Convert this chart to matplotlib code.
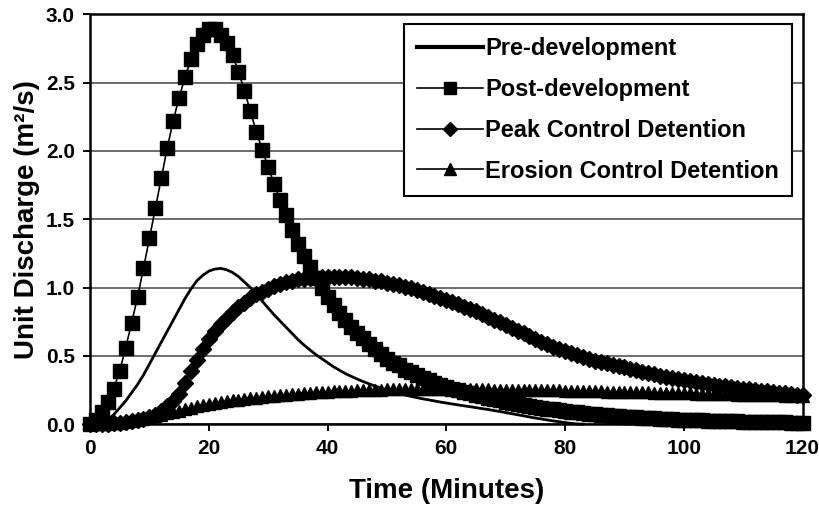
import numpy as np
import matplotlib.pyplot as plt
from matplotlib.lines import Line2D

plt.rcParams['font.family'] = ['Liberation Sans', 'DejaVu Sans']
plt.rcParams['font.weight'] = 'bold'
plt.rcParams['axes.labelweight'] = 'bold'

# unit discharge (m2/s), one value per minute
pre_dev = [0.0, 0.005, 0.015, 0.035, 0.07, 0.12, 0.17, 0.23, 0.29, 0.36,
           0.44, 0.52, 0.60, 0.68, 0.76, 0.84, 0.92, 0.99, 1.05, 1.09,
           1.12, 1.135, 1.14, 1.13, 1.11, 1.08, 1.04, 1.00, 0.95, 0.90,
           0.85, 0.80, 0.755, 0.71, 0.665, 0.62, 0.58, 0.545, 0.51, 0.48,
           0.45, 0.42, 0.395, 0.37, 0.35, 0.33, 0.312, 0.295, 0.279, 0.264,
           0.25, 0.237, 0.225, 0.214, 0.204, 0.195, 0.186, 0.178, 0.17, 0.162,
           0.155, 0.148, 0.141, 0.134, 0.128, 0.121, 0.114, 0.108, 0.10, 0.093,
           0.085, 0.077, 0.069, 0.061, 0.053, 0.045, 0.038, 0.031, 0.024, 0.018,
           0.012, 0.006, 0.002, 0.0]

post_dev = [0.00, 0.03, 0.09, 0.16, 0.26, 0.39, 0.56, 0.74, 0.93, 1.14,
            1.36, 1.58, 1.80, 2.02, 2.22, 2.39, 2.54, 2.67, 2.78, 2.85,
            2.89, 2.89, 2.85, 2.79, 2.70, 2.58, 2.44, 2.29, 2.14, 2.01,
            1.88, 1.76, 1.64, 1.53, 1.42, 1.32, 1.23, 1.15, 1.07, 1.00,
            0.93, 0.87, 0.81, 0.76, 0.71, 0.67, 0.63, 0.59, 0.55, 0.51,
            0.48, 0.45, 0.43, 0.40, 0.38, 0.36, 0.34, 0.32, 0.30, 0.29,
            0.27, 0.26, 0.25, 0.235, 0.225, 0.215, 0.205, 0.195, 0.185, 0.175,
            0.165, 0.157, 0.149, 0.141, 0.134, 0.127, 0.120, 0.114, 0.108, 0.102,
            0.097, 0.092, 0.087, 0.082, 0.078, 0.074, 0.070, 0.066, 0.062, 0.059,
            0.056, 0.053, 0.050, 0.047, 0.045, 0.042, 0.040, 0.038, 0.036, 0.034,
            0.032, 0.030, 0.029, 0.027, 0.026, 0.024, 0.023, 0.022, 0.021, 0.020,
            0.019, 0.018, 0.017, 0.016, 0.015, 0.014, 0.014, 0.013, 0.012, 0.012,
            0.011]

peak_ctrl = [0.0, 0.0, 0.0, 0.0, 0.005, 0.01, 0.015, 0.02, 0.03, 0.04,
             0.05, 0.07, 0.10, 0.13, 0.17, 0.22, 0.30, 0.39, 0.47, 0.55,
             0.62, 0.68, 0.73, 0.78, 0.82, 0.86, 0.89, 0.92, 0.95, 0.97,
             0.99, 1.01, 1.025, 1.04, 1.05, 1.06, 1.065, 1.07, 1.075, 1.08,
             1.08, 1.08, 1.08, 1.08, 1.075, 1.07, 1.065, 1.06, 1.05, 1.045,
             1.035, 1.025, 1.015, 1.005, 0.995, 0.98, 0.97, 0.955, 0.94, 0.925,
             0.91, 0.895, 0.88, 0.86, 0.845, 0.825, 0.805, 0.785, 0.765, 0.745,
             0.725, 0.705, 0.685, 0.665, 0.645, 0.625, 0.605, 0.585, 0.565, 0.55,
             0.535, 0.52, 0.505, 0.49, 0.48, 0.465, 0.455, 0.445, 0.435, 0.425,
             0.415, 0.405, 0.395, 0.385, 0.375, 0.365, 0.355, 0.345, 0.337, 0.33,
             0.322, 0.315, 0.308, 0.301, 0.295, 0.289, 0.283, 0.277, 0.271, 0.266,
             0.26, 0.255, 0.25, 0.245, 0.24, 0.235, 0.23, 0.225, 0.22, 0.215,
             0.21]

erosion_ctrl = [0.0, 0.0, 0.0, 0.002, 0.005, 0.01, 0.015, 0.02, 0.03, 0.04,
                0.05, 0.06, 0.07, 0.08, 0.09, 0.10, 0.11, 0.12, 0.13, 0.14,
                0.15, 0.155, 0.16, 0.168, 0.175, 0.18, 0.186, 0.19, 0.195, 0.20,
                0.204, 0.208, 0.212, 0.216, 0.22, 0.223, 0.226, 0.229, 0.232, 0.235,
                0.237, 0.24, 0.242, 0.244, 0.246, 0.248, 0.25, 0.251, 0.252, 0.253,
                0.254, 0.255, 0.256, 0.256, 0.257, 0.257, 0.257, 0.257, 0.257, 0.257,
                0.256, 0.256, 0.256, 0.255, 0.255, 0.255, 0.254, 0.254, 0.253, 0.253,
                0.252, 0.252, 0.251, 0.251, 0.25, 0.25, 0.249, 0.248, 0.248, 0.247,
                0.246, 0.245, 0.244, 0.243, 0.242, 0.241, 0.24, 0.239, 0.238, 0.237,
                0.236, 0.235, 0.234, 0.233, 0.232, 0.231, 0.23, 0.229, 0.228, 0.227,
                0.226, 0.225, 0.224, 0.223, 0.222, 0.221, 0.22, 0.219, 0.218, 0.217,
                0.216, 0.215, 0.214, 0.213, 0.212, 0.211, 0.21, 0.209, 0.208, 0.207,
                0.206]

fig = plt.figure(figsize=(8.2, 5.08), dpi=100)
ax = fig.add_axes([0.1098, 0.165, 0.869, 0.807])

ax.plot(range(len(pre_dev)), pre_dev, color='black', lw=2.0, clip_on=False, zorder=3)
ax.plot(range(len(post_dev)), post_dev, color='black', lw=1.2, marker='s', ms=9.5,
        clip_on=False, zorder=3)
ax.plot(range(len(peak_ctrl)), peak_ctrl, color='black', lw=1.2, marker='D', ms=8.5,
        clip_on=False, zorder=3)
ax.plot(range(len(erosion_ctrl)), erosion_ctrl, color='black', lw=1.2, marker='^', ms=9,
        clip_on=False, zorder=3)

ax.set_xlim(0, 120)
ax.set_ylim(0, 3.0)
ax.set_xticks([0, 20, 40, 60, 80, 100, 120])
ax.set_yticks(np.arange(0, 3.01, 0.5))
ax.set_yticklabels([f'{v:.1f}' for v in np.arange(0, 3.01, 0.5)])
ax.yaxis.grid(True, color='#444444', lw=1.1)
ax.set_axisbelow(True)
for sp in ax.spines.values():
    sp.set_linewidth(1.8)
ax.tick_params(labelsize=15, width=1.4, length=5, pad=6)

ax.set_xlabel('Time (Minutes)', fontsize=20, labelpad=14)
ax.set_ylabel('Unit Discharge (m²/s)', fontsize=20, labelpad=4)

handles = [
    Line2D([], [], color='black', lw=3),
    Line2D([], [], color='black', lw=1.2, marker='s', ms=8.5),
    Line2D([], [], color='black', lw=1.2, marker='D', ms=7.5),
    Line2D([], [], color='black', lw=1.2, marker='^', ms=8.5),
]
labels = ['Pre-development', 'Post-development', 'Peak Control Detention',
          'Erosion Control Detention']
leg = ax.legend(handles, labels, loc='upper right', bbox_to_anchor=(0.985, 0.975),
                borderaxespad=0, fontsize=17, numpoints=1, handlelength=2.8,
                handletextpad=0.1, labelspacing=0.75, borderpad=0.55,
                fancybox=False, framealpha=1, edgecolor='black')
leg.get_frame().set_linewidth(1.5)

fig.savefig('out.png', dpi=100)
